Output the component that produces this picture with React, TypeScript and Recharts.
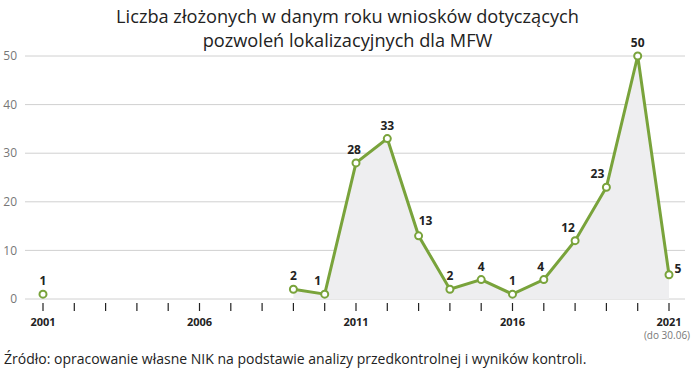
import React from "react";
import { ComposedChart, Line, Area, XAxis, YAxis, CartesianGrid, LabelList } from "recharts";

const years = [2001, 2002, 2003, 2004, 2005, 2006, 2007, 2008, 2009, 2010, 2011, 2012, 2013, 2014, 2015, 2016, 2017, 2018, 2019, 2020, 2021];
const values: (number | null)[] = [1, null, null, null, null, null, null, null, 2, 1, 28, 33, 13, 2, 4, 1, 4, 12, 23, 50, 5];
const labeledYears = [2001, 2006, 2011, 2016, 2021];
const yTicks = [0, 10, 20, 30, 40, 50];
const titleLines = ["Liczba złożonych w danym roku wniosków dotyczących", "pozwoleń lokalizacyjnych dla MFW"];
const lastNote = "(do 30.06)";
const sourceText = "Źródło: opracowanie własne NIK na podstawie analizy przedkontrolnej i wyników kontroli.";

const data = years.map((y, i) => ({ year: y, v: values[i] }));

const GREEN = "#79a33b";
const FONT = "'Open Sans', 'Noto Sans', sans-serif";

const labelShift: Record<number, [number, number]> = {
  2010: [-7, 0],
  2011: [-2, 0],
  2013: [7, -2],
  2017: [-3, 0],
  2018: [-7, 0],
  2019: [-9, 0],
  2021: [9, 7],
};

const XTick = (props: any) => {
  const { x, y, payload } = props;
  const val = payload.value;
  const show = labeledYears.includes(val);
  return (
    <g>
      <line x1={x} x2={x} y1={y + 4} y2={y + 12} stroke="#222" strokeWidth={1.2} />
      {show && (
        <text x={x} y={y + 27} textAnchor="middle" fontSize={11} fontWeight={700} fill="#222" fontFamily={FONT}>
          {val}
        </text>
      )}
      {val === 2021 && (
        <text x={x - 2} y={y + 40} textAnchor="middle" fontSize={10} fill="#777" fontFamily={FONT}>
          {lastNote}
        </text>
      )}
    </g>
  );
};

const PointLabel = (props: any) => {
  const { x, y, value, index } = props;
  if (value == null) return null;
  const yr = years[index];
  const [dx, dy] = labelShift[yr] || [0, 0];
  return (
    <text x={x + dx} y={y - 9 + dy} textAnchor="middle" fontSize={12} fontWeight={700} fill="#222" fontFamily={FONT}>
      {value}
    </text>
  );
};

export default function App() {
  return (
    <div style={{ position: "absolute", left: 0, top: 0, width: 695, height: 373, background: "#fff", fontFamily: FONT }}>
      <div style={{ position: "absolute", left: 0, top: 4, width: 695, textAlign: "center", fontSize: 18.2, lineHeight: "24px", color: "#222" }}>
        {titleLines.map((t) => (
          <div key={t}>{t}</div>
        ))}
      </div>
      <ComposedChart width={695} height={373} data={data} margin={{ top: 56, right: 10, bottom: 34, left: 0 }}>
        <CartesianGrid horizontal vertical={false} stroke="#d0d0d0" />
        <XAxis
          dataKey="year"
          type="number"
          domain={[2001, 2021]}
          ticks={years}
          interval={0}
          padding={{ left: 18, right: 16 }}
          axisLine={false}
          tickLine={false}
          tickSize={0}
          tickMargin={0}
          height={40}
          tick={<XTick />}
        />
        <YAxis
          domain={[0, 50]}
          ticks={yTicks}
          width={25}
          axisLine={false}
          tickLine={false}
          tick={{ fontSize: 12, fill: "#777", fontFamily: FONT }}
        />
        <Area dataKey="v" type="linear" stroke="none" fill="#eeeef0" fillOpacity={1} isAnimationActive={false} connectNulls={false} />
        <Line
          dataKey="v"
          type="linear"
          stroke={GREEN}
          strokeWidth={3}
          dot={{ r: 3.5, stroke: GREEN, strokeWidth: 2, fill: "#fff" }}
          activeDot={false}
          isAnimationActive={false}
          connectNulls={false}
        >
          <LabelList dataKey="v" content={<PointLabel />} />
        </Line>
      </ComposedChart>
      <div style={{ position: "absolute", left: 4, top: 349, fontSize: 14, color: "#222", whiteSpace: "nowrap" }}>{sourceText}</div>
    </div>
  );
}
